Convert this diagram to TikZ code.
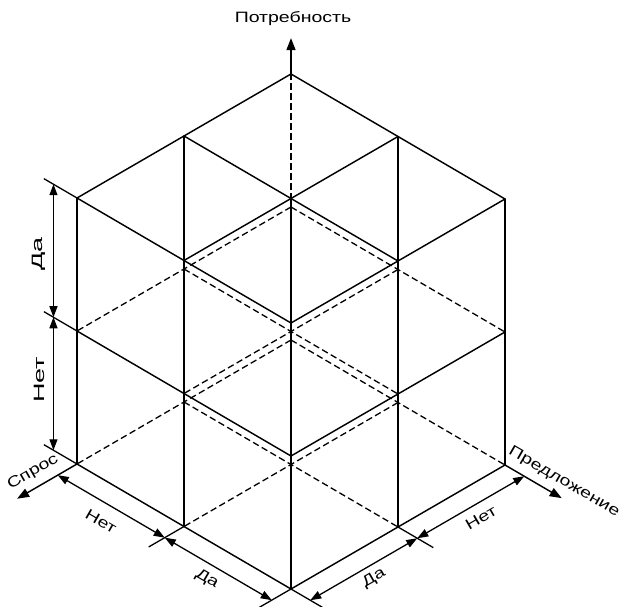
\documentclass[tikz,border=0pt]{standalone}
\usepackage{fontspec}
\setmainfont{Liberation Sans}[FakeStretch=1.3]
\newfontfamily\widefont{Liberation Sans}[FakeStretch=1.8]
\usetikzlibrary{arrows.meta}
\begin{document}
\begin{tikzpicture}[x=1pt,y=-1pt,
  edge/.style={line width=1.45pt, line cap=round},
  hidden/.style={line width=1.3pt, dash pattern=on 6.5pt off 3.5pt},
  axis/.style={line width=1.45pt, -{Triangle[length=12pt,width=9pt]}},
  dim/.style={line width=1.3pt, {Triangle[length=11pt,width=8pt]}-{Triangle[length=11pt,width=8pt]}},
  ext/.style={line width=1.3pt},
  lab/.style={font=\fontsize{15}{17}\selectfont, inner sep=0pt},
  labv/.style={font=\widefont\fontsize{15}{17}\selectfont, inner sep=0pt, rotate=90},
]
\useasboundingbox (0,0) rectangle (622,607);
\begin{scope}[shift={(291,340)}, x={(-107pt,-62pt)}, y={(107pt,-62.5pt)}, z={(0pt,133pt)}]
  \foreach \s in {0,1,2}{\foreach \p in {0,1,2}{\foreach \n in {0,1,2}{
    \coordinate (v\s\p\n) at (\s,\p,\n);}}}
  % hidden lattice lines
  \draw[hidden] (v000) -- (v020);
  \draw[hidden] (v001) -- (v021);
  \draw[hidden] (v100) -- (v120);
  \draw[hidden] (v101) -- (v121);
  \draw[hidden] (v000) -- (v200);
  \draw[hidden] (v001) -- (v201);
  \draw[hidden] (v010) -- (v210);
  \draw[hidden] (v011) -- (v211);
  \draw[hidden] (v000) -- (v002);
  \draw[hidden] (v110) -- (v112);
  % visible lattice lines
  \draw[edge] (v200) -- (v220);
  \draw[edge] (v201) -- (v221);
  \draw[edge] (v202) -- (v222);
  \draw[edge] (v102) -- (v122);
  \draw[edge] (v002) -- (v022);
  \draw[edge] (v020) -- (v220);
  \draw[edge] (v021) -- (v221);
  \draw[edge] (v022) -- (v222);
  \draw[edge] (v012) -- (v212);
  \draw[edge] (v002) -- (v202);
  \draw[edge] (v200) -- (v202);
  \draw[edge] (v210) -- (v212);
  \draw[edge] (v220) -- (v222);
  \draw[edge] (v120) -- (v122);
  \draw[edge] (v020) -- (v022);
  \draw[edge] (v100) -- (v102);
  \draw[edge] (v010) -- (v012);
  % axes
  \coordinate (tipN) at (0,0,2.27);
  \coordinate (tipS) at (2.56,0,0);
  \coordinate (tipP) at (0,2.53,0);
  \draw[axis] (v002) -- (tipN);
  \draw[axis] (v200) -- (tipS);
  \draw[axis] (v020) -- (tipP);
  % vertical dimension (left)
  \foreach \n in {0,1,2}{
    \coordinate (dL\n) at (2,-0.22,\n);
    \coordinate (eL\n) at (2,-0.31,\n);}
  \draw[ext] (v200) -- (eL0);
  \draw[ext] (v201) -- (eL1);
  \draw[ext] (v202) -- (eL2);
  \draw[dim] (dL0) -- (dL1);
  \draw[dim] (dL1) -- (dL2);
  % bottom-left dimension
  \foreach \p in {0,1,2}{
    \coordinate (dA\p) at (2.18,\p,0);
    \coordinate (eA\p) at (2.33,\p,0);}
  \draw[ext] (v210) -- (eA1);
  \draw[ext] (v220) -- (eA2);
  \draw[dim] (dA0) -- (dA1);
  \draw[dim] (dA1) -- (dA2);
  % bottom-right dimension
  \foreach \s in {0,1,2}{
    \coordinate (dB\s) at (\s,2.18,0);
    \coordinate (eB\s) at (\s,2.33,0);}
  \draw[ext] (v120) -- (eB1);
  \draw[ext] (v220) -- (eB2);
  \draw[dim] (dB0) -- (dB1);
  \draw[dim] (dB1) -- (dB2);
\end{scope}
% labels
\node[lab] (lN) at (293,19) {Потребность};
\node[lab, rotate=30] (lS) at (33,472) {Спрос};
\node[lab, rotate=-30] (lP) at (564,482) {Предложение};
\node[labv] (lvDa) at (39,254) {Да};
\node[labv] (lvNet) at (39,380) {Нет};
\node[lab, rotate=-30] (lbNet) at (101,521) {Нет};
\node[lab, rotate=-30] (lbDa) at (207,579) {Да};
\node[lab, rotate=30] (lrNet) at (481,518) {Нет};
\node[lab, rotate=30] (lrDa) at (374,578) {Да};
\end{tikzpicture}
\end{document}
